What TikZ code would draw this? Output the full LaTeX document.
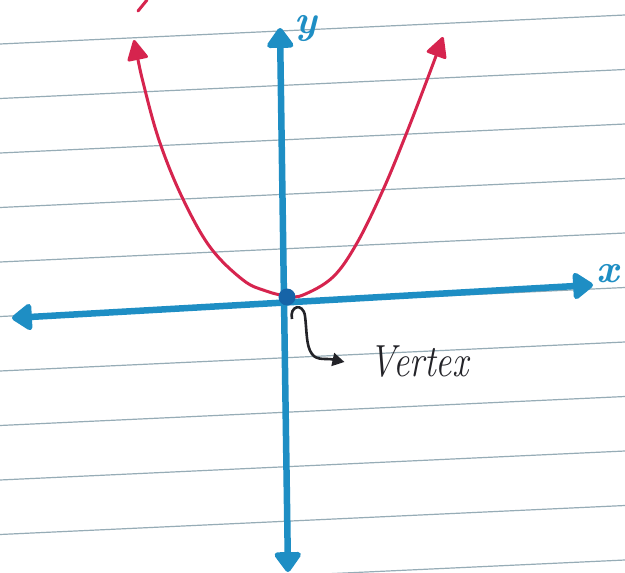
\documentclass[tikz,border=0pt]{standalone}
\usetikzlibrary{arrows.meta}
\definecolor{axisblue}{RGB}{30,142,196}
\definecolor{vtxblue}{RGB}{22,100,168}
\definecolor{parred}{RGB}{214,36,78}
\definecolor{pen}{RGB}{35,35,40}
\definecolor{ruled}{RGB}{150,172,182}
\tikzset{
  ruleline/.style={draw=ruled, line width=1.2pt},
  axisline/.style={draw=axisblue, line width=6.5pt,
    {Triangle[width=30pt,length=22pt,round]}-{Triangle[width=30pt,length=22pt,round]}},
  parcurve/.style={draw=parred, line width=3pt,
    {Triangle[width=22pt,length=22pt,round]}-{Triangle[width=22pt,length=22pt,round]}},
  vtxdot/.style={circle, fill=vtxblue, minimum size=17pt, inner sep=0pt},
  axlabel/.style={text=axisblue, font=\fontsize{40}{40}\selectfont\bfseries\itshape, inner sep=0pt},
  curl/.style={draw=pen, line width=2.6pt, -{Triangle[width=13pt,length=12pt]}},
  vlabel/.style={text=pen, font=\fontsize{36}{40}\selectfont\itshape, inner sep=0pt, yscale=1.25, transform shape}
}
\begin{document}
\begin{tikzpicture}[x=1pt,y=-1pt]
\useasboundingbox (0,0) rectangle (625,573);
\fill[white] (0,0) rectangle (625,573);
% ruled paper lines
\foreach \k in {0,...,10}{
  \draw[ruleline] (0,{44+54.5*\k}) -- (625,{15+54.5*\k});
}
% axes
\coordinate (xl) at (12,318);
\coordinate (xr) at (593,285);
\coordinate (yt) at (280,28);
\coordinate (yb) at (288,572);
\draw[axisline] (xl) -- (xr);
\draw[axisline] (yt) -- (yb);
\node[axlabel] (ylab) at (306,28) {y};
\node[axlabel] (xlab) at (608,274) {x};
% small red stroke at the top
\draw[draw=parred, line width=3pt, line cap=round] (147,0) -- (138,11);
% parabola
\draw[parcurve] plot[smooth, tension=0.6] coordinates {
  (134,40) (145,90) (160,143) (182,197) (210,247) (243,280) (266,291) (287,296)
  (303,295) (333,277) (357,243) (383,190) (405,137) (427,80) (443,37)};
% vertex
\node[vtxdot] (vtx) at (287,297) {};
\node[vlabel] (lbl) at (419,362) {Vertex};
\coordinate (cs) at (292,319);
\draw[curl] (cs) .. controls (289,306) and (303,302) .. (305,316)
  .. controls (307,332) and (306,346) .. (312,354)
  .. controls (317,361) and (326,358) .. ([xshift=-25pt]lbl.west);
\end{tikzpicture}
\end{document}
